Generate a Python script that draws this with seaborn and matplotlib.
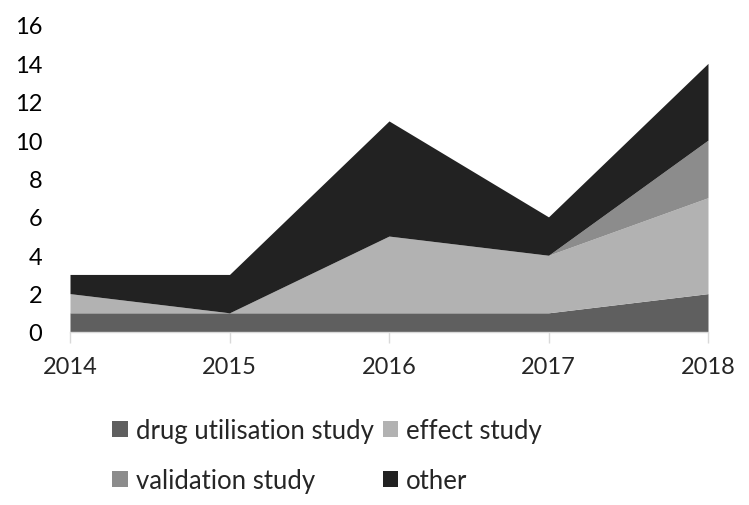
import matplotlib
matplotlib.use("Agg")
import matplotlib.pyplot as plt
from matplotlib.patches import Patch
import seaborn as sns

years = [2014, 2015, 2016, 2017, 2018]
drug_utilisation = [1, 1, 1, 1, 2]
effect = [1, 0, 4, 3, 5]
validation = [0, 0, 0, 0, 3]
other = [1, 2, 6, 2, 4]

series_names = ["drug utilisation study", "effect study", "validation study", "other"]
series_colors = ["#5f5f5f", "#b2b2b2", "#8c8c8c", "#222222"]

sns.set_style("white")
plt.rcParams["font.family"] = ["Lato", "DejaVu Sans"]

fig = plt.figure(figsize=(7.49, 5.06), dpi=100)
ax = fig.add_axes([70 / 749, 1 - 333 / 506, (708 - 70) / 749, (333 - 26) / 506])

ax.stackplot(years, drug_utilisation, effect, validation, other,
             colors=series_colors, linewidth=0)

ax.set_xlim(years[0], years[-1])
ax.set_ylim(0, 16)
ax.set_yticks(range(0, 17, 2))
ax.set_xticks(years)
ax.tick_params(axis="y", length=0, labelsize=17, pad=20, colors="black")
ax.tick_params(axis="x", length=8, width=1, color="#d9d9d9", labelsize=17,
               pad=9, direction="out", bottom=True)
for side in ["left", "right", "top"]:
    ax.spines[side].set_visible(False)
ax.spines["bottom"].set_color("#d9d9d9")
ax.spines["bottom"].set_linewidth(1)

handles = [Patch(facecolor=c, edgecolor="none") for c in series_colors]
order = [0, 2, 1, 3]
fig.legend([handles[i] for i in order], [series_names[i] for i in order],
           ncol=2, loc="upper left", bbox_to_anchor=(112 / 749, 1 - 419 / 506),
           frameon=False, fontsize=18.5, borderpad=0, borderaxespad=0,
           handlelength=0.62, handleheight=0.56,
           handletextpad=0.3, columnspacing=0.35, labelspacing=0.98)

fig.savefig("out.png", dpi=100)
